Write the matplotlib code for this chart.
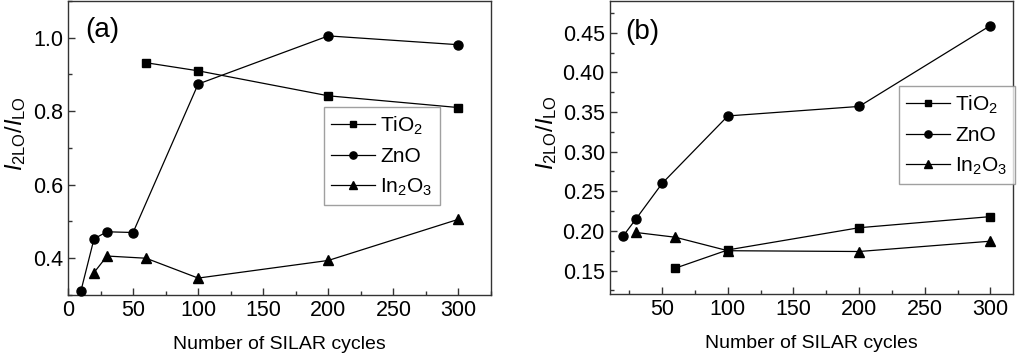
import matplotlib
matplotlib.use("Agg")
import matplotlib.pyplot as plt
from matplotlib.ticker import MultipleLocator

plt.rcParams['font.family'] = ['Liberation Sans', 'DejaVu Sans']
plt.rcParams['mathtext.fontset'] = 'custom'
plt.rcParams['mathtext.rm'] = 'Liberation Sans'
plt.rcParams['mathtext.it'] = 'Liberation Sans:italic'
plt.rcParams['mathtext.default'] = 'regular'

# Panel (a)
a_tio2_x = [60, 100, 200, 300]
a_tio2_y = [0.932, 0.910, 0.842, 0.810]
a_zno_x = [10, 20, 30, 50, 100, 200, 300]
a_zno_y = [0.312, 0.453, 0.472, 0.470, 0.874, 1.005, 0.981]
a_in2o3_x = [20, 30, 60, 100, 200, 300]
a_in2o3_y = [0.361, 0.406, 0.400, 0.346, 0.394, 0.506]

# Panel (b)
b_tio2_x = [60, 100, 200, 300]
b_tio2_y = [0.153, 0.176, 0.204, 0.218]
b_zno_x = [20, 30, 50, 100, 200, 300]
b_zno_y = [0.193, 0.215, 0.260, 0.345, 0.357, 0.459]
b_in2o3_x = [30, 60, 100, 200, 300]
b_in2o3_y = [0.198, 0.192, 0.175, 0.174, 0.187]

labels = ['TiO$_2$', 'ZnO', 'In$_2$O$_3$']
xlabel = 'Number of SILAR cycles'
ylabel = r'$\mathit{I}_{2LO}/\mathit{I}_{LO}$'

fig = plt.figure(figsize=(10.24, 3.54), dpi=100)
axa = fig.add_axes([0.0664, 0.1667, 0.4131, 0.8305])
axb = fig.add_axes([0.5954, 0.1686, 0.3936, 0.8286])

FS = 15.5
LFS = 14
spine_c = '#333333'

def style(ax, ylx):
    for s in ax.spines.values():
        s.set_linewidth(1.0)
        s.set_color(spine_c)
    ax.tick_params(which='both', direction='in', top=False, right=False,
                   labelsize=FS, color=spine_c, width=1.0)
    ax.tick_params(which='major', length=5)
    ax.tick_params(which='minor', length=3)
    ax.set_xlabel(xlabel, fontsize=LFS)
    ax.set_ylabel(ylabel, fontsize=17)
    ax.xaxis.set_label_coords(0.5, -0.138)
    ax.yaxis.set_label_coords(ylx, 0.55)

def plot_series(ax, data, anchor):
    markers = ['s', 'o', '^']
    sizes = [6, 6.5, 7]
    for (x, y), m, ms, lab in zip(data, markers, sizes, labels):
        ax.plot(x, y, color='black', lw=0.9, marker=m, ms=ms, label=lab, clip_on=False, zorder=3)
    leg = ax.legend(fontsize=15, frameon=True, fancybox=False, handlelength=2.1,
                    handletextpad=0.25, borderpad=0.35, labelspacing=0.5, markerscale=0.8,
                    loc='upper left', bbox_to_anchor=anchor, bbox_transform=fig.transFigure,
                    borderaxespad=0)
    leg.get_frame().set_edgecolor('#888888')
    leg.get_frame().set_linewidth(1.0)
    return leg

plot_series(axa, [(a_tio2_x, a_tio2_y), (a_zno_x, a_zno_y), (a_in2o3_x, a_in2o3_y)],
            (324/1024, 1 - 107/354))
axa.set_xlim(0, 325)
axa.set_ylim(0.3, 1.1)
axa.xaxis.set_major_locator(MultipleLocator(50))
axa.xaxis.set_minor_locator(MultipleLocator(25))
axa.yaxis.set_major_locator(MultipleLocator(0.2))
axa.yaxis.set_minor_locator(MultipleLocator(0.1))
style(axa, -0.095)
axa.text(0.04, 0.945, '(a)', transform=axa.transAxes, fontsize=20, va='top', ha='left')

plot_series(axb, [(b_tio2_x, b_tio2_y), (b_zno_x, b_zno_y), (b_in2o3_x, b_in2o3_y)],
            (899/1024, 1 - 86/354))
axb.set_xlim(10, 317)
axb.set_ylim(0.12, 0.49)
axb.xaxis.set_major_locator(MultipleLocator(50))
axb.xaxis.set_minor_locator(MultipleLocator(25))
axb.yaxis.set_major_locator(MultipleLocator(0.05))
axb.yaxis.set_minor_locator(MultipleLocator(0.025))
style(axb, -0.127)
axb.text(0.038, 0.94, '(b)', transform=axb.transAxes, fontsize=20, va='top', ha='left')

fig.savefig('out.png', dpi=100)
